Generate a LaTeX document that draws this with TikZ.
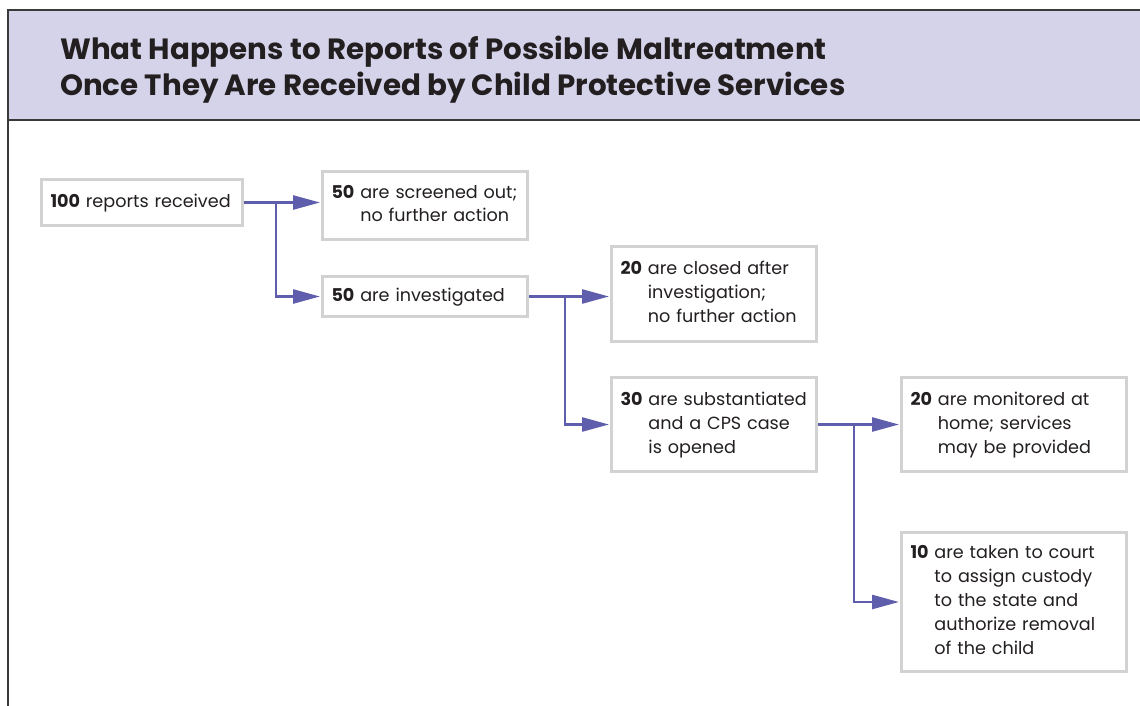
\documentclass[tikz,border=0pt]{standalone}
\usepackage{fontspec}
\setmainfont{Poppins}
\usetikzlibrary{arrows.meta}
\definecolor{hdr}{HTML}{D5D3EA}
\definecolor{frame}{HTML}{3A3A3A}
\definecolor{boxline}{HTML}{D2D2D2}
\definecolor{conncol}{HTML}{5E5EAD}
\definecolor{txt}{HTML}{231F20}
\tikzset{
  box/.style={draw=boxline, line width=3pt, fill=white, anchor=north west,
    inner xsep=9pt, inner ysep=0pt, align=left, text=txt,
    font=\fontsize{17.6}{24}\selectfont},
  conn/.style={draw=conncol, line width=2.6pt},
  arr/.style={conn, -{Triangle[length=27pt,width=14pt]}, shorten >=1pt},
}
\newcommand{\rows}[2]{\begin{tabular}{@{}l@{\ }l@{}}\textbf{#1} & #2\end{tabular}}
\begin{document}
\begin{tikzpicture}[x=1pt,y=-1pt]
\useasboundingbox (0,0) rectangle (1140,706);
% header
\fill[hdr] (8,10) rectangle (1140,120);
\draw[frame, line width=1.5pt] (1140,10) -- (8,10) -- (8,706);
\draw[frame, line width=1.5pt] (8,120) -- (1140,120);
\node[anchor=north west, align=left, text=txt, inner sep=0pt,
  font=\fontsize{29.3}{36}\selectfont\bfseries] (title) at (60,36)
  {What Happens to Reports of Possible Maltreatment\\Once They Are Received by Child Protective Services};
% boxes
\node[box, minimum width=201pt, minimum height=46pt, text width=183pt] (A) at (40,178)
  {\rows{100}{reports received}};
\node[box, minimum width=205pt, minimum height=68pt, text width=187pt] (B) at (321,170)
  {\rows{50}{are screened out;\\[-1pt] & no further action}};
\node[box, minimum width=205pt, minimum height=40pt, text width=187pt] (C) at (321,275)
  {\rows{50}{are investigated}};
\node[box, minimum width=205pt, minimum height=95pt, text width=187pt] (D) at (610,245)
  {\rows{20}{are closed after\\ & investigation;\\ & no further action}};
\node[box, minimum width=205pt, minimum height=94pt, text width=187pt] (E) at (610,376)
  {\rows{30}{are substantiated\\ & and a CPS case\\ & is opened}};
\node[box, minimum width=225pt, minimum height=94pt, text width=207pt] (F) at (900,376)
  {\rows{20}{are monitored at\\ & home; services\\ & may be provided}};
\node[box, minimum width=225pt, minimum height=139pt, text width=207pt] (G) at (900,531)
  {\rows{10}{are taken to court\\ & to assign custody\\ & to the state and\\ & authorize removal\\ & of the child}};
% connectors
\coordinate (j1) at ([xshift=32pt]A.east);
\coordinate (j2) at ([xshift=36pt]C.east);
\coordinate (j3) at ([xshift=36pt]E.east);
\draw[conn] (A.east) -- (j1);
\draw[arr] (j1) -- (B.west |- j1);
\draw[arr] (j1) |- (C.west);
\draw[conn] (C.east) -- (j2);
\draw[arr] (j2) -- (D.west |- j2);
\draw[arr] (j2) |- (E.west);
\draw[conn] (E.east) -- (j3);
\draw[arr] (j3) -- (F.west |- j3);
\draw[arr] (j3) |- (G.west);
\end{tikzpicture}
\end{document}
